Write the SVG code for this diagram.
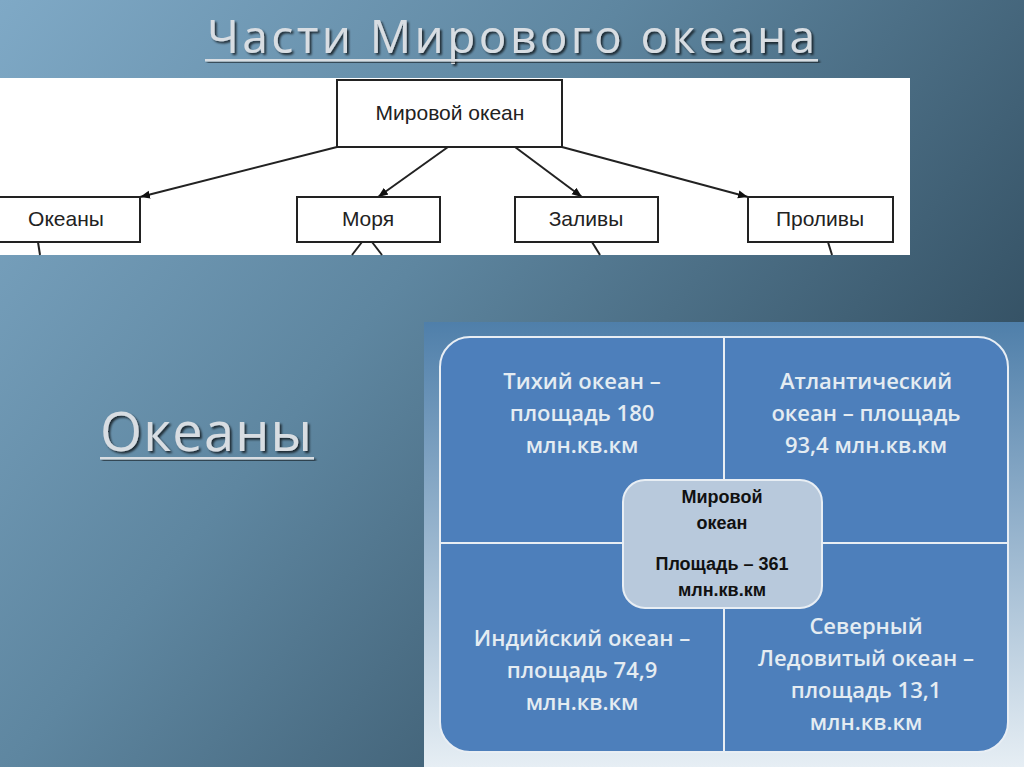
<svg xmlns="http://www.w3.org/2000/svg" width="1024" height="767" viewBox="0 0 1024 767">
<defs>
<linearGradient id="bg" x1="0" y1="0" x2="1" y2="0.6">
<stop offset="0" stop-color="#7fa9c6"/><stop offset="0.45" stop-color="#5e86a0"/><stop offset="1" stop-color="#2f4a5c"/>
</linearGradient>
<linearGradient id="lp" x1="0" y1="0" x2="0" y2="1">
<stop offset="0" stop-color="#4f7faa"/><stop offset="1" stop-color="#e6eef4"/>
</linearGradient>
<marker id="ar" viewBox="0 0 10 10" refX="10" refY="5" markerWidth="10" markerHeight="10" markerUnits="userSpaceOnUse" orient="auto"><path d="M0,1 L10,5 L0,9 z" fill="#111"/></marker>
<filter id="sh" x="-10%" y="-50%" width="120%" height="200%"><feDropShadow dx="2" dy="2" stdDeviation="1" flood-color="#000" flood-opacity="0.7"/></filter>
</defs>
<style>
.box{fill:#fff;stroke:#222;stroke-width:2}
.bt{font-family:"Liberation Sans",Arial,sans-serif;font-size:21px;fill:#222;text-anchor:middle}
.ln{stroke:#222;stroke-width:2;fill:none}
.wt{font-family:"Open Sans","DejaVu Sans",sans-serif;font-size:22px;font-weight:600;fill:#e4ecf2;text-anchor:middle}
.ct{font-family:"Liberation Sans",Arial,sans-serif;font-size:18px;font-weight:bold;fill:#111;text-anchor:middle}
.hd{font-family:"Open Sans","DejaVu Sans",sans-serif;fill:#d8dde2;filter:url(#sh)}
</style>
<rect width="1024" height="767" fill="url(#bg)"/>
<g id="title"><text class="hd" x="207" y="53" font-size="46" textLength="608" lengthAdjust="spacing">Части Мирового океана</text>
<rect x="205" y="59" width="613" height="2.5" fill="#d8dde2" filter="url(#sh)"/></g>
<g id="okeany-title"><text class="hd" x="100" y="451" font-size="54" textLength="212" lengthAdjust="spacing">Океаны</text>
<rect x="100" y="457" width="214" height="2.5" fill="#d8dde2" filter="url(#sh)"/></g>
<rect x="0" y="78" width="910" height="177" fill="#fff"/>
<g id="connectors">
<line class="ln" x1="337" y1="147" x2="140" y2="197" marker-end="url(#ar)"/>
<line class="ln" x1="448" y1="147" x2="378" y2="197" marker-end="url(#ar)"/>
<line class="ln" x1="515" y1="147" x2="582" y2="197" marker-end="url(#ar)"/>
<line class="ln" x1="562" y1="147" x2="748" y2="197" marker-end="url(#ar)"/>
<line class="ln" x1="38" y1="242" x2="40" y2="255"/>
<line class="ln" x1="362" y1="242" x2="352" y2="255"/>
<line class="ln" x1="372" y1="242" x2="382" y2="255"/>
<line class="ln" x1="592" y1="242" x2="600" y2="255"/>
<line class="ln" x1="828" y1="242" x2="832" y2="255"/>
</g>
<g id="n-mir"><rect class="box" x="337" y="80" width="225" height="67"/><text class="bt" x="450" y="120">Мировой океан</text></g>
<g id="n-ok"><rect class="box" x="-5" y="197" width="145" height="45"/><text class="bt" x="66" y="226">Океаны</text></g>
<g id="n-mor"><rect class="box" x="297" y="197" width="143" height="45"/><text class="bt" x="368" y="226">Моря</text></g>
<g id="n-zal"><rect class="box" x="515" y="197" width="143" height="45"/><text class="bt" x="586" y="226">Заливы</text></g>
<g id="n-pro"><rect class="box" x="748" y="197" width="145" height="45"/><text class="bt" x="820" y="226">Проливы</text></g>
<rect x="424" y="322" width="600" height="445" fill="url(#lp)"/>
<g id="panel">
<rect x="440" y="337" width="568" height="415" rx="30" fill="#4d7fbb" stroke="#e8eef4" stroke-width="2"/>
<line x1="724" y1="337" x2="724" y2="752" stroke="#e8eef4" stroke-width="2"/>
<line x1="440" y1="543" x2="1008" y2="543" stroke="#e8eef4" stroke-width="2"/>
</g>
<g id="q1"><text class="wt" x="582" y="389">Тихий океан –</text><text class="wt" x="582" y="421">площадь 180</text><text class="wt" x="582" y="453">млн.кв.км</text></g>
<g id="q2"><text class="wt" x="866" y="389">Атлантический</text><text class="wt" x="866" y="421">океан – площадь</text><text class="wt" x="866" y="453">93,4 млн.кв.км</text></g>
<g id="q3"><text class="wt" x="582" y="646">Индийский океан –</text><text class="wt" x="582" y="678">площадь 74,9</text><text class="wt" x="582" y="710">млн.кв.км</text></g>
<g id="q4"><text class="wt" x="866" y="634">Северный</text><text class="wt" x="866" y="666">Ледовитый океан –</text><text class="wt" x="866" y="698">площадь 13,1</text><text class="wt" x="866" y="730">млн.кв.км</text></g>
<g id="center"><rect x="623" y="480" width="199" height="128" rx="22" fill="#b8c9dc" stroke="#e8eef4" stroke-width="2"/>
<text class="ct" x="722" y="503">Мировой</text><text class="ct" x="722" y="529">океан</text><text class="ct" x="722" y="570">Площадь – 361</text><text class="ct" x="722" y="596" font-size="16">млн.кв.км</text></g>
</svg>
